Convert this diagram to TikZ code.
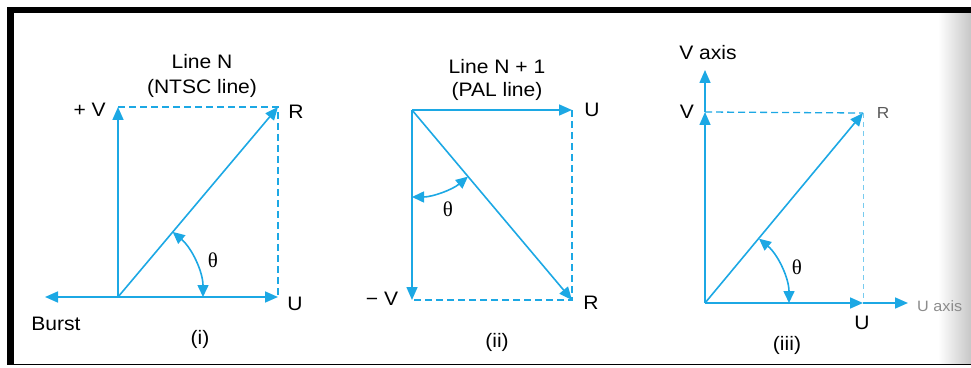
\documentclass[tikz,border=0pt]{standalone}
\usepackage{fontspec}
\setmainfont{Liberation Sans}
\newfontfamily\thetafont{Liberation Serif}
\usetikzlibrary{arrows.meta}
\definecolor{cy}{RGB}{28,168,228}
\begin{document}
\begin{tikzpicture}[x=1pt,y=1pt,
  vec/.style={draw=cy, line width=1.6pt, -{Triangle[length=13pt,width=11pt]}},
  dashline/.style={draw=cy, line width=1.3pt, dash pattern=on 7pt off 4pt},
  finedash/.style={draw=cy!60, line width=1pt, dash pattern=on 5pt off 4pt},
  arcarrow/.style={draw=cy, line width=1.6pt, {Triangle[length=12pt,width=11pt]}-{Triangle[length=12pt,width=11pt]}},
  lbl/.style={font=\fontsize{19.5}{22}\selectfont, inner sep=0pt, text height=14pt, text depth=0pt, xscale=1.08},
  th/.style={font=\fontsize{21}{24}\thetafont, inner sep=0pt, text height=14pt, text depth=0pt}
]
\useasboundingbox (0,0) rectangle (971,367);
% scan shading at right edge
\shade[left color=white, right color=black!22] (938,3.5) rectangle (971,354);
% frame
\fill[black] (7,354) rectangle (971,360);
\fill[black] (7,2) rectangle (14,360);
\fill[black] (7,2) rectangle (971,3.5);

% ---------- Panel (i) ----------
\coordinate (O1) at (118,70);
\coordinate (V1) at (118,260);
\coordinate (R1) at (278,260);
\coordinate (U1) at (278,70);
\coordinate (B1) at (45,70);
\draw[dashline] (V1) -- (R1) -- (U1);
\draw[vec] (O1) -- (V1);
\draw[vec] (O1) -- (U1);
\draw[vec] (O1) -- (B1);
\draw[vec] (O1) -- (R1);
\draw[arcarrow] ([shift={(0:85)}]O1) arc[start angle=0, end angle=50, radius=85];
\node[lbl] (t1a) at (202,305) {Line N};
\node[lbl] (t1b) at (202,280) {(NTSC line)};
\node[lbl, anchor=east] (pv1) at (106,257) {+ V};
\node[lbl] (r1) at (296,255) {R};
\node[lbl] (u1) at (295,64) {U};
\node[lbl] (burst) at (56,44) {Burst};
\node[lbl] (c1) at (200,30) {(i)};
\node[th] (th1) at (213,107) {θ};

% ---------- Panel (ii) ----------
\coordinate (O2) at (412,257);
\coordinate (U2) at (572,257);
\coordinate (V2) at (412,67);
\coordinate (R2) at (572,67);
\draw[dashline] (U2) -- (R2) -- (V2);
\draw[vec] (O2) -- (U2);
\draw[vec] (O2) -- (V2);
\draw[vec] (O2) -- (R2);
\draw[arcarrow] ([shift={(-90:87)}]O2) arc[start angle=-90, end angle=-50, radius=87];
\node[lbl] (t2a) at (497,300) {Line N + 1};
\node[lbl] (t2b) at (497,277) {(PAL line)};
\node[lbl] (u2) at (592,257) {U};
\node[lbl] (r2) at (591,65) {R};
\node[lbl] (mv2) at (382,69) {− V};
\node[lbl] (c2) at (497,27) {(ii)};
\node[th] (th2) at (448,157) {θ};

% ---------- Panel (iii) ----------
\coordinate (O3) at (705,64);
\coordinate (VA) at (705,297);
\coordinate (V3) at (705,255);
\coordinate (R3) at (863,254);
\coordinate (U3) at (863,64);
\coordinate (UA) at (908,64);
\draw[dashline] (V3) -- (R3);
\draw[finedash] (R3) -- (U3);
\draw[vec] (O3) -- (V3);
\draw[vec] (V3) -- (VA);
\draw[vec] (O3) -- (U3);
\draw[vec] (U3) -- (UA);
\draw[vec] (O3) -- (R3);
\draw[arcarrow] ([shift={(0:84)}]O3) arc[start angle=0, end angle=50, radius=84];
\node[lbl] (t3) at (708,314) {V axis};
\node[lbl] (v3) at (687,255) {V};
\node[lbl, font=\fontsize{16}{18}\selectfont, text height=11.5pt, text=black!65] (r3) at (883,254) {R};
\node[lbl] (u3) at (862,45) {U};
\node[lbl, font=\fontsize{15}{17}\selectfont, text height=11pt, text=black!45, anchor=west] (ua) at (917,61) {U axis};
\node[lbl] (c3) at (787,24) {(iii)};
\node[th] (th3) at (797,100) {θ};
\end{tikzpicture}
\end{document}
